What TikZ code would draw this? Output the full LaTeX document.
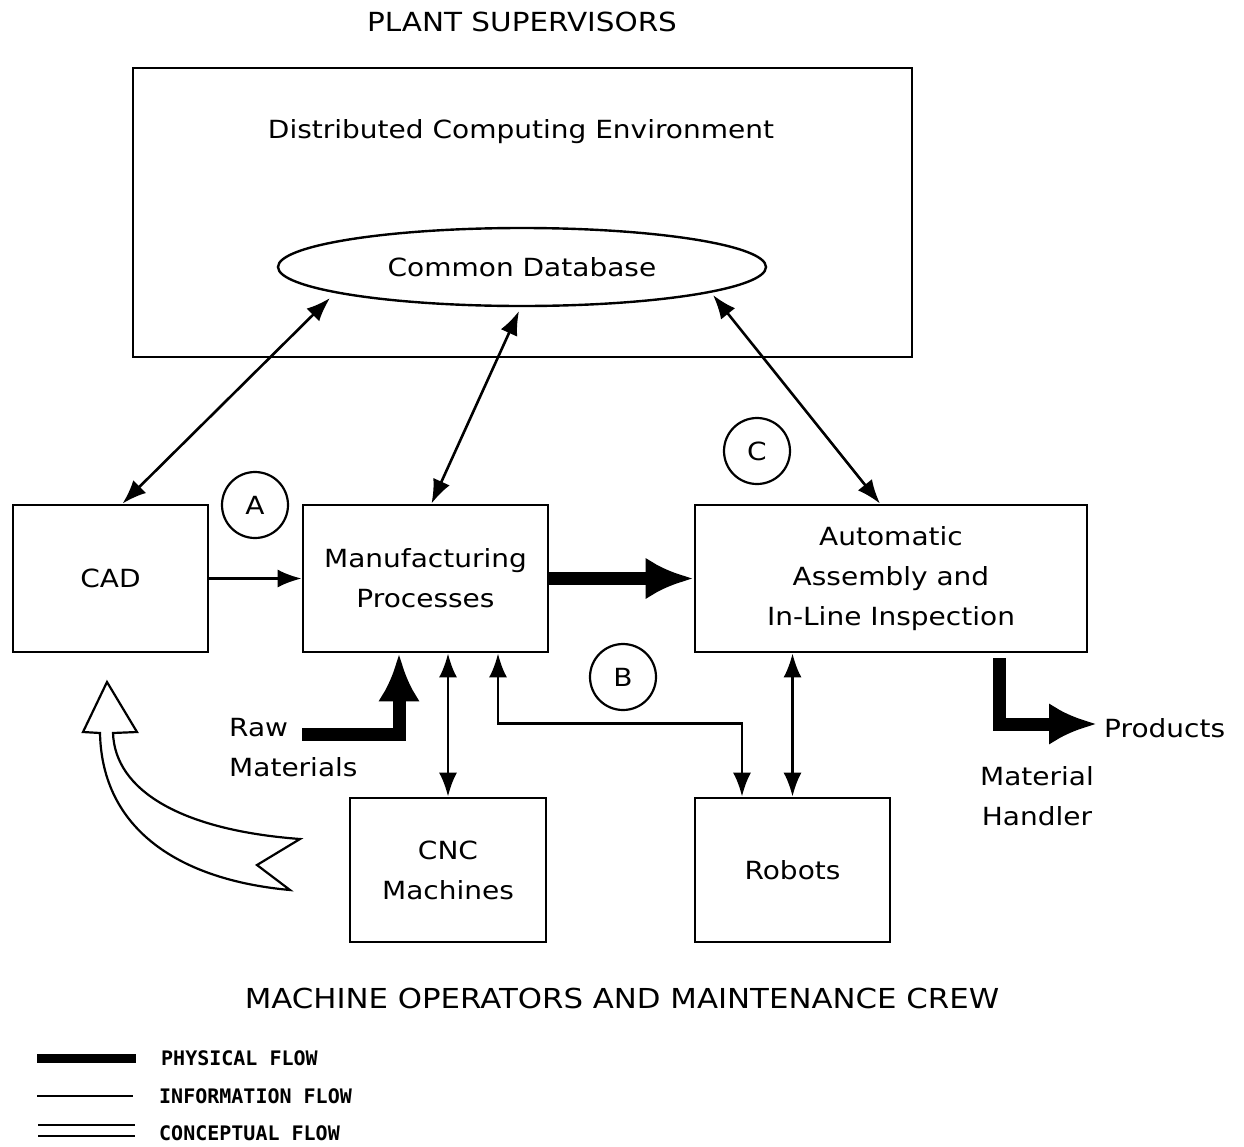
\documentclass[tikz,border=0pt]{standalone}
\usepackage{fontspec}
\setmainfont{DejaVu Sans}[FakeStretch=1.12]
\newfontfamily\legendfont{DejaVu Sans Mono}
\usetikzlibrary{arrows.meta,shapes.geometric}
\begin{document}
\begin{tikzpicture}[x=1pt,y=-1pt,
  lbl/.style={font=\fontsize{25}{40}\selectfont, align=center, inner sep=0pt},
  heading/.style={font=\fontsize{#1}{40}\selectfont, inner sep=0pt},
  box/.style={draw, line width=2.8pt, lbl},
  tag/.style={draw, circle, line width=2.2pt, minimum size=66pt, lbl},
  info/.style={line width=2.6pt, {Latex[length=24pt,width=18pt]}-{Latex[length=24pt,width=18pt]}},
  infoone/.style={line width=2.6pt, -{Latex[length=24pt,width=18pt]}},
  physical/.style={line width=13pt, line join=miter, -{Latex[length=48pt,width=42pt]}},
  legendtext/.style={font=\legendfont\bfseries\fontsize{20}{20}\selectfont, anchor=west, inner sep=0pt},
]
\useasboundingbox (0,0) rectangle (1244,1146);

% headings
\node[heading=26.3] (plant) at (522,22) {PLANT SUPERVISORS};
\node[heading=27.5] (crew) at (622,998) {MACHINE OPERATORS AND MAINTENANCE CREW};

% computing environment with its database
\node[box, minimum width=779pt, minimum height=289pt] (dce) at (522.5,212.5) {};
\node[lbl] (dcetext) at (521,132) {Distributed Computing Environment};
\node[draw, ellipse, line width=2.4pt, lbl, minimum width=488pt, minimum height=78pt] (db) at (522,267) {Common Database};

% shop floor blocks
\node[box, minimum width=195pt, minimum height=147pt] (cad) at (110.5,578.5) {CAD};
\node[box, minimum width=245pt, minimum height=147pt] (mfg) at (425.5,578.5) {Manufacturing\\Processes};
\node[box, minimum width=392pt, minimum height=147pt] (auto) at (891,578.5) {Automatic\\Assembly and\\In-Line Inspection};
\node[box, minimum width=196pt, minimum height=144pt] (cnc) at (448,870) {CNC\\Machines};
\node[box, minimum width=195pt, minimum height=144pt] (robots) at (792.5,870) {Robots};

% interface markers
\node[tag] (ta) at (255,505) {A};
\node[tag] (tb) at (623,677) {B};
\node[tag] (tc) at (757,451) {C};

% side labels
\node[lbl, align=left, anchor=west] (raw) at (229,748) {Raw\\Materials};
\node[lbl] (handler) at (1037,796) {Material\\Handler};
\node[lbl, anchor=west] (products) at (1104,728) {Products};

% database links
\coordinate (dbA) at (330,298);
\coordinate (dbB) at (519,311);
\coordinate (dbC) at (713,295);
\draw[info] (dbA) -- ([xshift=12pt]cad.north);
\draw[info] (dbB) -- ([xshift=6pt]mfg.north);
\draw[info] (dbC) -- ([xshift=-11pt]auto.north);

% information flow on the floor
\draw[infoone] (cad.east) -- (mfg.west);
\draw[info] (cnc.north |- mfg.south) -- (cnc.north);
\draw[info] ([xshift=72.5pt]mfg.south) -- ++(0,70) -| ([xshift=-50.5pt]robots.north);
\draw[info] (robots.north |- auto.south) -- (robots.north);

% physical flow
\draw[physical] (mfg.east) -- (auto.west);
\coordinate (rawtail) at (302,734);
\draw[physical] (rawtail) -| ([xshift=-26.5pt]mfg.south);
\coordinate (prodtip) at (1097,724);
\draw[physical] ([xshift=108pt,yshift=-5pt]auto.south) |- (prodtip);

% conceptual flow back to design
\draw[line width=2.2pt, fill=white, line join=miter]
  (83,732) -- (107,682) -- (137,732) -- (113,733)
  .. controls (115,790) and (180,830) .. (300,839)
  -- (257,865) -- (290,890)
  .. controls (180,880) and (102,830) .. (100,733) -- cycle;

% legend
\draw[line width=9pt] (37,1058) -- (136,1058);
\node[legendtext] (lphys) at (161,1058) {PHYSICAL FLOW};
\draw[line width=2.6pt] (37,1096) -- (133,1096);
\node[legendtext] (linfo) at (159,1096) {INFORMATION FLOW};
\draw[line width=2.6pt] (38,1125) -- (135,1125);
\draw[line width=2.6pt] (38,1136) -- (135,1136);
\node[legendtext] (lconc) at (159,1133) {CONCEPTUAL FLOW};
\end{tikzpicture}
\end{document}
